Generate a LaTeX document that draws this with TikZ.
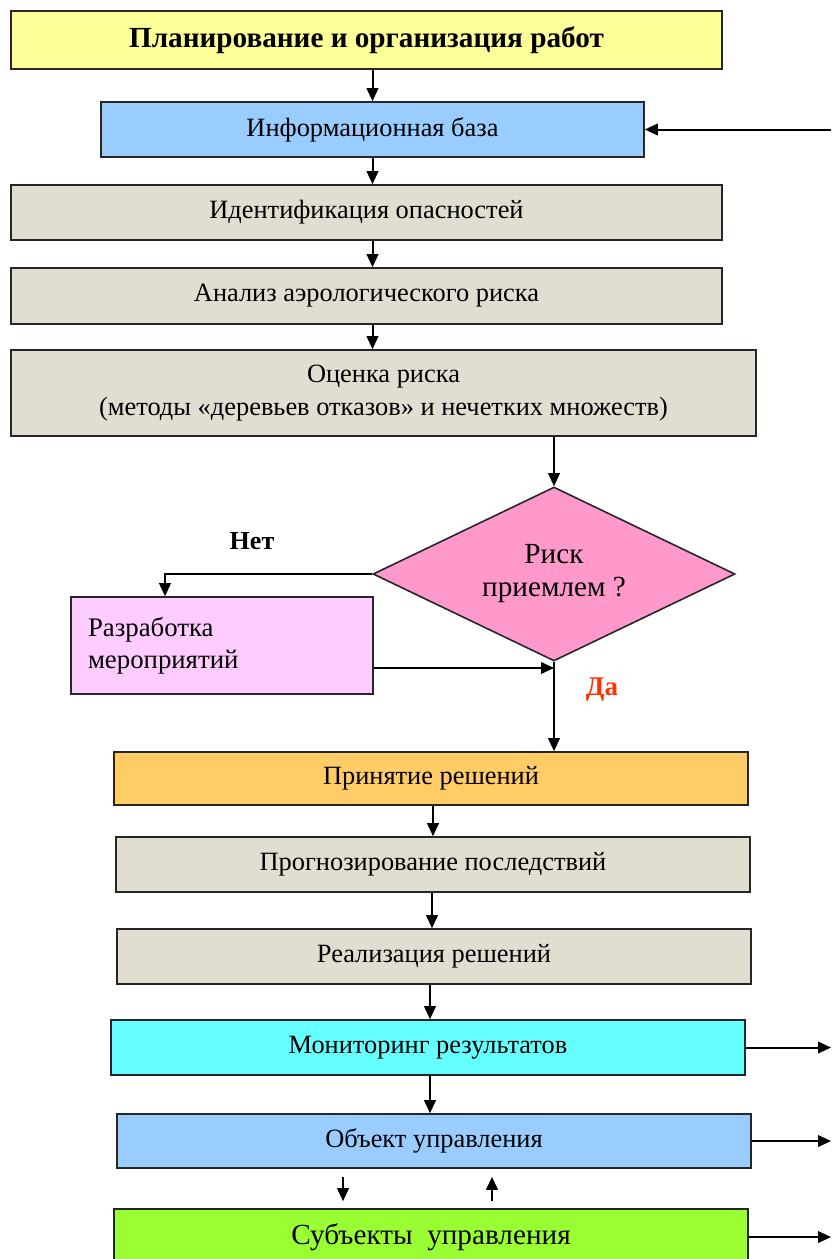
\documentclass[tikz,border=0pt]{standalone}
\usepackage{fontspec}
\setmainfont{Liberation Serif}
\usepackage{xcolor}
\usetikzlibrary{shapes,arrows.meta,positioning,calc}

\definecolor{planyellow}{HTML}{FFFF99}
\definecolor{infoblue}{HTML}{99CCFF}
\definecolor{stepbeige}{HTML}{E2DDD1}
\definecolor{riskpink}{HTML}{FF99CC}
\definecolor{measpink}{HTML}{FFCCFF}
\definecolor{decorange}{HTML}{FFCC66}
\definecolor{moncyan}{HTML}{66FFFF}
\definecolor{subjgreen}{HTML}{99FF33}
\definecolor{yesred}{HTML}{FF3300}

\begin{document}
\begin{tikzpicture}[x=0.5pt, y=-0.5pt,
    box/.style={draw=black!85, line width=0.8pt, rectangle, inner sep=2pt,
        font=\fontsize{13.2}{16.5}\selectfont, align=center},
    arr/.style={-{Triangle[length=6.5pt,width=5.8pt]}, line width=1pt}]
    \useasboundingbox (0,0) rectangle (832,1259);
    \clip (0,0) rectangle (832,1259);

    % Upper chain
    \node[box, fill=planyellow, minimum width=355.5pt, minimum height=29pt,
        font=\fontsize{14.6}{17}\selectfont\bfseries] (plan) at (366.5,40)
        {Планирование и организация работ};
    \node[box, fill=infoblue, minimum width=271.5pt, minimum height=27.5pt] (info) at (372.5,129.5)
        {Информационная база};
    \node[box, fill=stepbeige, minimum width=355.5pt, minimum height=27.5pt] (ident) at (366.5,212.5)
        {Идентификация опасностей};
    \node[box, fill=stepbeige, minimum width=355.5pt, minimum height=28pt] (anal) at (366.5,296)
        {Анализ аэрологического риска};
    \node[box, fill=stepbeige, minimum width=372.5pt, minimum height=43pt] (eval) at (383.5,393)
        {Оценка риска\\(методы «деревьев отказов» и нечетких множеств)};

    % Decision
    \node[draw=black!85, line width=0.8pt, diamond, fill=riskpink, inner sep=0pt,
        minimum width=181pt, minimum height=87pt] (risk) at (554,574) {};
    \node[align=center, font=\fontsize{14.6}{16.5}\selectfont] (risktext) at (risk) {Риск\\приемлем ?};
    \node[box, fill=measpink, minimum width=151pt, minimum height=48.5pt,
        text width=134pt, align=left, font=\fontsize{13.4}{16}\selectfont] (meas) at (222,645.5)
        {Разработка\\мероприятий\\[-4pt]};
    \node[font=\fontsize{13}{15}\selectfont\bfseries] (no) at (252,541) {Нет};
    \node[font=\fontsize{13.5}{15}\selectfont\bfseries, text=yesred] (yes) at (602,690) {Да};

    % Lower chain
    \node[box, fill=decorange, minimum width=317pt, minimum height=26.5pt] (dec) at (431,778.5)
        {Принятие решений};
    \node[box, fill=stepbeige, minimum width=317pt, minimum height=27.5pt] (prog) at (433,864.5)
        {Прогнозирование последствий};
    \node[box, fill=stepbeige, minimum width=317pt, minimum height=27.5pt] (impl) at (434,956.5)
        {Реализация решений};
    \node[box, fill=moncyan, minimum width=317pt, minimum height=27.5pt] (mon) at (428,1047.5)
        {Мониторинг результатов};
    \node[box, fill=infoblue, minimum width=317pt, minimum height=27pt] (obj) at (434,1141)
        {Объект управления};
    \node[box, fill=subjgreen, minimum width=317pt, minimum height=28pt,
        font=\fontsize{14.6}{16}\selectfont] (subj) at (431,1237)
        {Субъекты\ \ управления};

    \coordinate (edge) at (831,0);

    % Connectors
    \draw[arr] (plan.south -| info) -- (info.north);
    \draw[arr] (info.south) -- (info.south |- ident.north);
    \draw[arr] (ident.south -| info) -- (info |- anal.north);
    \draw[arr] (anal.south -| info) -- (info |- eval.north);
    \draw[arr] (eval.south -| risk) -- (risk.north);
    \draw[arr] (risk.west) -| ([xshift=-28.5pt]meas.north);
    \draw[arr] ([yshift=-11.25pt]meas.east) -- ([yshift=-11.25pt]meas.east -| risk.south);
    \draw[arr] (risk.south) -- (risk.south |- dec.north);
    \draw[arr] (dec.south -| prog) -- (prog.north);
    \draw[arr] (prog.south -| 432,0) -- (impl.north -| 432,0);
    \draw[arr] (impl.south -| 430,0) -- (mon.north -| 430,0);
    \draw[arr] (mon.south -| 430,0) -- (obj.north -| 430,0);
    \draw[arr, shorten <=4pt, shorten >=3.5pt] ([xshift=-45.5pt]obj.south) -- ([xshift=-45.5pt]obj.south |- subj.north);
    \draw[arr, shorten <=3.5pt, shorten >=4pt] ([xshift=29pt]obj.south |- subj.north) -- ([xshift=29pt]obj.south);

    % Side links
    \draw[arr] (info.east -| edge) -- (info.east);
    \foreach \n in {mon,obj,subj} {
        \draw[arr] (\n.east) -- (\n.east -| edge);
    }
\end{tikzpicture}
\end{document}
